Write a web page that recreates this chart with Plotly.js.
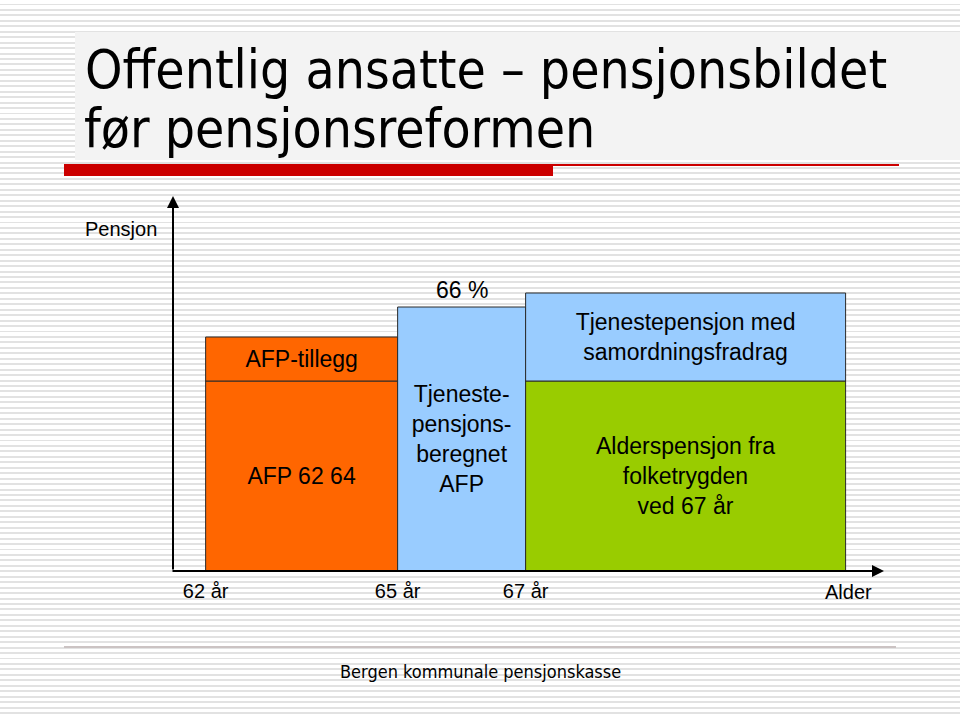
<!DOCTYPE html>
<html>
<head>
<meta charset="utf-8">
<script src="https://cdn.plot.ly/plotly-3.0.1.min.js"></script>
<style>
  html, body { margin: 0; padding: 0; }
  body {
    width: 960px; height: 717px; overflow: hidden; position: relative;
    background-color: #ffffff;
    background-image: repeating-linear-gradient(to bottom, #ffffff 0px, #ffffff 3.5px, #e2e2e2 3.5px, #e2e2e2 5.45px);
  }
  #titlebox { position: absolute; left: 75px; top: 32px; width: 885px; height: 128px; background: #f3f3f3; }
  #redbar { position: absolute; left: 64px; top: 164px; width: 489px; height: 12px; background: #cc0000; }
  #redline { position: absolute; left: 553px; top: 164px; width: 346px; height: 1.5px; background: #cc0000; }
  #footline { position: absolute; left: 64px; top: 646px; width: 832px; height: 2px; background: #cbc3c3; }
  #chart { position: absolute; left: 0; top: 0; width: 960px; height: 717px; }
</style>
</head>
<body>
<div id="titlebox"></div>
<div id="redbar"></div>
<div id="redline"></div>
<div id="footline"></div>
<div id="chart"></div>
<script>
// Ages (segment starts) and durations
const segStart = [62, 65, 67];
const segWidth = [3, 2, 5];
const tickLabels = ["62 år", "65 år", "67 år"];

// Stacked components (schematic pension levels, % scale)
const afpBase = 47.5;          // AFP 62–64
const afpTillegg = 11;         // AFP-tillegg
const tjpAfp = 66;             // Tjenestepensjonsberegnet AFP (66 %)
const alderspensjon = 47.5;    // Alderspensjon fra folketrygden
const tjpSamordnet = 22;       // Tjenestepensjon med samordningsfradrag

const labels = {
  afpBase: "AFP 62 64",
  afpTillegg: "AFP-tillegg",
  tjpAfp: "Tjeneste-<br>pensjons-<br>beregnet<br>AFP",
  alderspensjon: "Alderspensjon fra<br>folketrygden<br>ved 67 år",
  tjpSamordnet: "Tjenestepensjon med<br>samordningsfradrag"
};

const titleLines = ["Offentlig ansatte – pensjonsbildet", "før pensjonsreformen"];

const orange = "#ff6600", blue = "#99ccff", green = "#99cc00";
const txtFont = {family: "Liberation Sans, Arial, sans-serif", size: 23, color: "#000"};
const titleFont = {family: "DejaVu Sans Condensed, DejaVu Sans, sans-serif", size: 53, color: "#000"};

function seg(i, base, val, color, text) {
  return {
    type: "bar", x: [segStart[i]], y: [val], base: [base],
    width: [segWidth[i]], offset: 0,
    marker: {color: color, line: {color: "#2a2a2a", width: 1}},
    text: [text], textposition: "inside", insidetextanchor: "middle",
    textangle: 0, constraintext: "none", textfont: txtFont,
    hoverinfo: "skip", showlegend: false
  };
}

const data = [
  seg(0, 0, afpBase, orange, labels.afpBase),
  seg(0, afpBase, afpTillegg, orange, labels.afpTillegg),
  seg(1, 0, tjpAfp, blue, labels.tjpAfp),
  seg(2, 0, alderspensjon, green, labels.alderspensjon),
  seg(2, alderspensjon, tjpSamordnet, blue, labels.tjpSamordnet)
];

const layout = {
  width: 960, height: 717,
  margin: {l: 173, r: 76, t: 196, b: 146},
  paper_bgcolor: "rgba(0,0,0,0)", plot_bgcolor: "rgba(0,0,0,0)",
  barmode: "overlay",
  title: {
    text: titleLines[0],
    font: titleFont,
    x: 85 / 960, xanchor: "left", xref: "container",
    y: 1 - 69 / 717, yanchor: "middle", yref: "container"
  },
  xaxis: {
    range: [61.49, 72.6], showgrid: false, zeroline: false, showline: false,
    tickvals: segStart, ticktext: tickLabels, ticks: "", ticklabelstandoff: 6,
    tickfont: {family: "Liberation Sans, Arial, sans-serif", size: 20, color: "#000"},
    fixedrange: true
  },
  yaxis: {
    range: [0, 93.75], showgrid: false, zeroline: false, showline: false,
    showticklabels: false, ticks: "", fixedrange: true
  },
  annotations: [
    {xref: "paper", yref: "paper", x: (85 - 173) / 711, y: 1 + (196 - 128) / 375, xshift: -3,
     xanchor: "left", yanchor: "middle", text: titleLines[1], showarrow: false, font: titleFont},
    {xref: "paper", yref: "paper", x: 0, y: 1, ax: 0, ay: 375, axref: "pixel", ayref: "pixel",
     showarrow: true, arrowhead: 2, arrowsize: 1.2, arrowwidth: 2, arrowcolor: "#000", text: ""},
    {xref: "paper", yref: "paper", x: 1, y: 0, ax: -713, ay: 0, axref: "pixel", ayref: "pixel",
     showarrow: true, arrowhead: 2, arrowsize: 1.2, arrowwidth: 2, arrowcolor: "#000", text: ""},
    {xref: "x", yref: "y", x: segStart[1] + segWidth[1] / 2, y: tjpAfp, yanchor: "bottom", yshift: 2,
     text: "66 %", showarrow: false, font: txtFont},
    {xref: "paper", yref: "y", x: 0, y: 85.5, xanchor: "right", xshift: -14,
     text: "Pensjon", showarrow: false,
     font: {family: "Liberation Sans, Arial, sans-serif", size: 20, color: "#000"}},
    {xref: "paper", yref: "paper", x: 1, y: 0, xanchor: "right", yanchor: "top", xshift: -10, yshift: -8,
     text: "Alder", showarrow: false,
     font: {family: "Liberation Sans, Arial, sans-serif", size: 20, color: "#000"}},
    {xref: "paper", yref: "paper", x: (480 - 173) / 711, y: 0, yanchor: "middle",
     yshift: -100, text: "Bergen kommunale pensjonskasse", showarrow: false,
     font: {family: "DejaVu Sans Condensed, DejaVu Sans, sans-serif", size: 18, color: "#000"}}
  ]
};

Plotly.newPlot("chart", data, layout, {displayModeBar: false, staticPlot: true});
</script>
</body>
</html>
